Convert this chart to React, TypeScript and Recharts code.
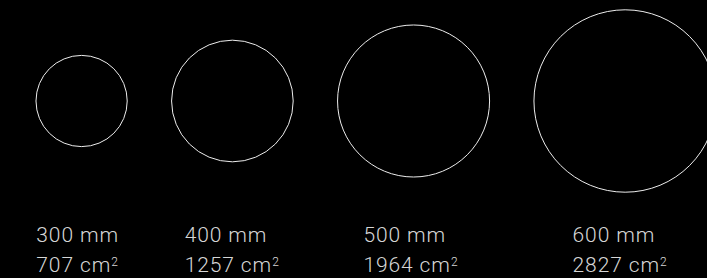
import React from "react";
import { ScatterChart, Scatter, XAxis, YAxis, ZAxis } from "recharts";

const diameters = [300, 400, 500, 600]; // mm
const areas = [707, 1257, 1964, 2827]; // cm²

const W = 707;
const H = 278;
const PX_PER_MM = 0.304;
const GAP_MM = 146;
const LEFT_PX = 36;

// lay circles side by side, centres in mm
let run = 0;
const data = diameters.map((d, i) => {
  const cx = run + d / 2;
  run += d + GAP_MM;
  return { cx, y: 0.5, d, area: areas[i] };
});

const xMin = -LEFT_PX / PX_PER_MM;
const xMax = (W - LEFT_PX) / PX_PER_MM;
const maxR = (diameters[3] / 2) * PX_PER_MM;

const PizzaShape = (props: any) => {
  const { cx, cy, width, payload } = props;
  const r = width / 2;
  const tx = cx - (38 + 0.16 * r);
  const font = { fontFamily: "Roboto", fontWeight: 300, fontSize: 21, letterSpacing: 0.9 };
  return (
    <g>
      <circle cx={cx} cy={cy} r={r} fill="none" stroke="#ededed" strokeWidth={1} />
      <text x={tx} y={cy + 141} fill="#d6d6d6" {...font}>
        {payload.d} mm
      </text>
      <text x={tx} y={cy + 171} fill="#d6d6d6" {...font}>
        {payload.area} cm
        <tspan dy={-6} fontSize={12} letterSpacing={0}>2</tspan>
      </text>
    </g>
  );
};

export default function App() {
  return (
    <div style={{ width: W, height: H, background: "#000" }}>
      <style>{`body{margin:0;background:#000}`}</style>
      <ScatterChart width={W} height={H} margin={{ top: 0, right: 0, left: 0, bottom: 76 }}>
        <XAxis type="number" dataKey="cx" domain={[xMin, xMax]} hide />
        <YAxis type="number" dataKey="y" domain={[0, 1]} hide />
        <ZAxis type="number" dataKey="area" domain={[0, areas[3]]} range={[0, Math.PI * maxR * maxR]} />
        <Scatter data={data} fill="none" shape={<PizzaShape />} isAnimationActive={false} />
      </ScatterChart>
    </div>
  );
}
